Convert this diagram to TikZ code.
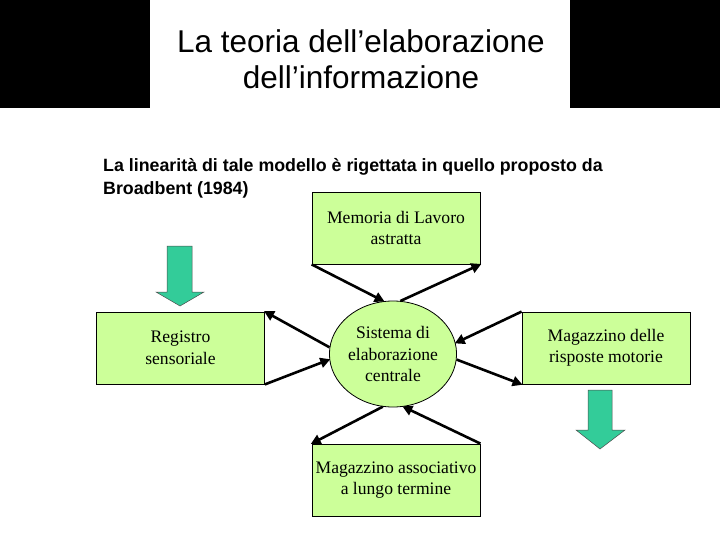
\documentclass[tikz,border=0pt]{standalone}
\usepackage{fontspec}
\setmainfont{Liberation Serif}
\newfontfamily\arial{Liberation Sans}
\usetikzlibrary{shapes.geometric,arrows.meta}
\definecolor{boxgreen}{RGB}{204,255,153}
\definecolor{arrgreen}{RGB}{51,204,153}
\tikzset{
  gbox/.style={draw=black,line width=0.8pt,fill=boxgreen,minimum width=168pt,minimum height=72pt,align=center,font=\fontsize{17.6}{21.5}\selectfont,inner sep=0pt},
  conn/.style={line width=2.6pt,-{Triangle[length=10pt,width=10pt]},shorten >=-1pt},
  blockarrow/.style={draw=black!70,line width=0.5pt,fill=arrgreen}
}
\begin{document}
\begin{tikzpicture}[x=1pt,y=-1pt]
\useasboundingbox (0,0) rectangle (720,540);
\fill[black] (0,0) rectangle (150,108);
\fill[black] (570,0) rectangle (720,108);
\node[font=\arial\fontsize{31.5}{36}\selectfont,align=center] (title) at (361,59) {La teoria dell’elaborazione\\dell’informazione};
\node[font=\arial\bfseries\fontsize{17.8}{23}\selectfont,align=left,anchor=north west,inner sep=0pt] (sub) at (103,158) {La linearità di tale modello è rigettata in quello proposto da\\Broadbent (1984)};
\node[gbox] (mem) at (396,228) {Memoria di Lavoro\\astratta};
\node[gbox] (reg) at (180.5,348) {Registro\\sensoriale};
\node[gbox] (mot) at (606,348) {Magazzino delle\\risposte motorie};
\node[gbox] (ass) at (396,480) {Magazzino associativo\\a lungo termine};
\node[draw=black,line width=0.8pt,fill=boxgreen,ellipse,minimum width=124pt,minimum height=106pt,inner sep=0pt,align=center,font=\fontsize{17.6}{21.5}\selectfont] (sys) at (393,354) {Sistema di\\elaborazione\\centrale};
% connectors
\draw[conn] (mem.south west) -- (sys.100);
\draw[conn] (sys.82) -- (mem.south east);
\draw[conn] (sys.174) -- (reg.north east);
\draw[conn] (reg.south east) -- (sys.185);
\draw[conn] (mot.north west) -- (sys.10);
\draw[conn] (sys.355) -- (mot.south west);
\draw[conn] (sys.259) -- (ass.north west);
\draw[conn] (ass.north east) -- (sys.281);
% block arrows
\draw[blockarrow] (167,246) -- (192,246) -- (192,292) -- (204,292) -- (180,306) -- (156,292) -- (167,292) -- cycle;
\draw[blockarrow] (588,390) -- (612,390) -- (612,430) -- (625,430) -- (600,449) -- (576,430) -- (588,430) -- cycle;
\end{tikzpicture}
\end{document}
